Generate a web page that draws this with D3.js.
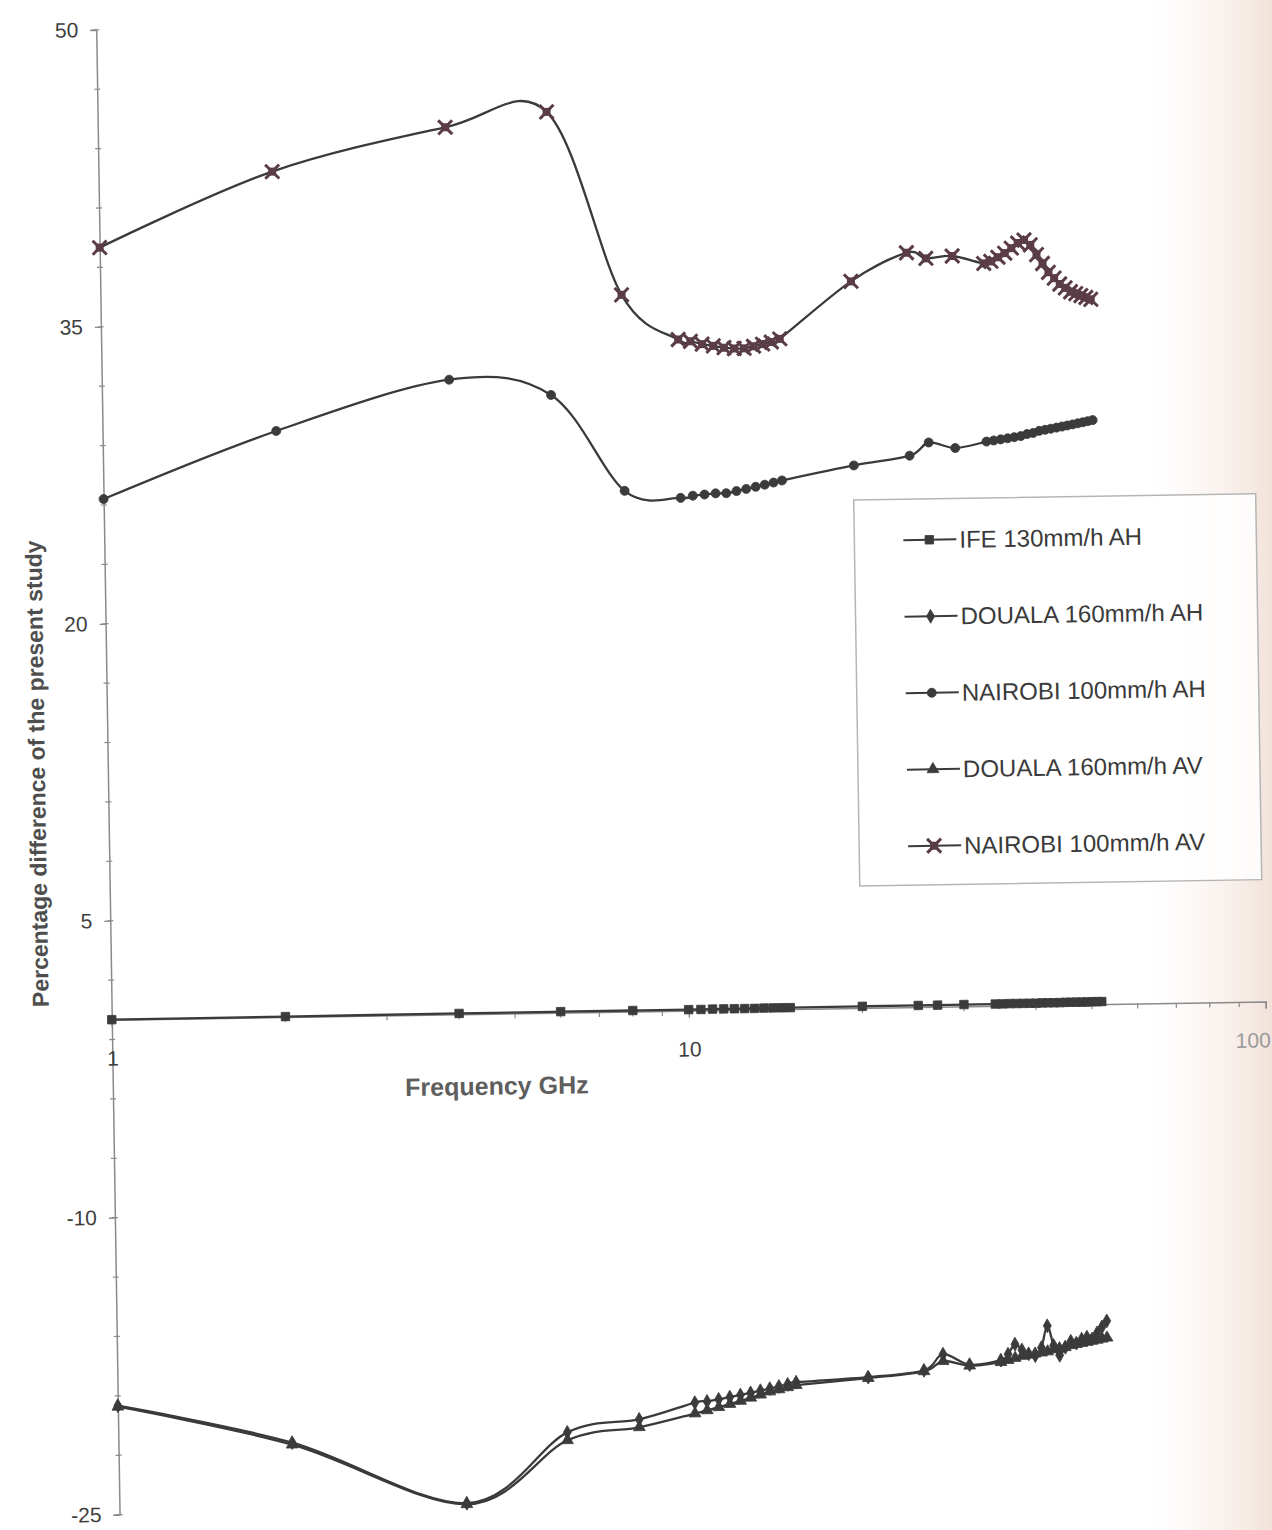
<!DOCTYPE html>
<html><head><meta charset="utf-8">
<script src="https://cdn.jsdelivr.net/npm/d3@7/dist/d3.min.js"></script>
<style>body{margin:0;background:#fff} svg{display:block}</style>
</head><body>
<svg id="c" width="1272" height="1530"></svg>
<script>
// ---- data ----
const freqs = [1,2,4,6,8,10,10.5,11,11.5,12,12.5,13,13.5,14,14.5,15,20,25,27,30,
  34,35,36,37,38,39,40,41,42,43,44,45,46,47,48,49,50,51,52];
const ife130AH = [0,0.02,0.04,0.05,0.05,0.05,0.05,0.06,0.06,0.06,0.06,0.06,0.07,0.07,0.07,0.07,0.08,0.08,0.08,0.09,
  0.09,0.09,0.1,0.1,0.1,0.1,0.1,0.11,0.11,0.11,0.11,0.12,0.12,0.12,0.12,0.12,0.13,0.13,0.13];
const nairobi100AV = [39.0,42.7,44.8,45.5,36.2,33.9,33.8,33.65,33.55,33.45,33.4,33.4,33.5,33.6,33.7,33.85,36.7,38.1,37.8,37.9,
  37.5,37.6,37.8,38.0,38.25,38.5,38.65,38.4,37.9,37.45,37.0,36.7,36.4,36.2,36.0,35.9,35.8,35.7,35.6];
const nairobi100AH = [26.3,29.6,32.05,31.2,26.3,25.9,26.0,26.05,26.1,26.1,26.2,26.3,26.4,26.5,26.6,26.7,27.4,27.85,28.5,28.2,
  28.5,28.55,28.6,28.65,28.7,28.75,28.85,28.9,29.0,29.05,29.1,29.15,29.2,29.25,29.3,29.35,29.4,29.45,29.5];
const douala160AH = [-19.5,-21.5,-24.7,-21.2,-20.6,-19.8,-19.75,-19.65,-19.55,-19.45,-19.35,-19.25,-19.15,-19.05,-18.95,-18.85,-18.65,-18.35,-17.55,-18.1,
  -17.9,-17.6,-17.1,-17.4,-17.6,-17.7,-17.3,-16.2,-17.2,-17.7,-17.3,-17.0,-17.1,-16.9,-16.8,-16.9,-16.6,-16.3,-16.0];
const douala160AV = [-19.55,-21.6,-24.75,-21.6,-21.0,-20.35,-20.2,-20.05,-19.9,-19.75,-19.6,-19.45,-19.3,-19.2,-19.1,-19.0,-18.7,-18.4,-17.9,-18.15,
  -18.0,-17.9,-17.8,-17.7,-17.65,-17.6,-17.55,-17.5,-17.4,-17.35,-17.3,-17.2,-17.15,-17.1,-17.05,-17.0,-16.95,-16.9,-16.85];
const seriesNames = ["IFE 130mm/h AH","DOUALA 160mm/h AH","NAIROBI 100mm/h AH","DOUALA 160mm/h AV","NAIROBI 100mm/h AV"];
const yTickValues = [50,35,20,5,-10,-25];
const xTickValues = [1,10,100];
const xTitle = "Frequency GHz";
const yTitle = "Percentage difference of the present study";

// ---- layout ----
const svg = d3.select("#c");
const defs = svg.append("defs");
const grad = defs.append("linearGradient").attr("id","edge").attr("x1","0").attr("x2","1").attr("y1","0").attr("y2","0");
grad.append("stop").attr("offset","0").attr("stop-color","#fbf3ee").attr("stop-opacity",0);
grad.append("stop").attr("offset","1").attr("stop-color","#f2e2da").attr("stop-opacity",1);
svg.append("rect").attr("x",1150).attr("y",0).attr("width",122).attr("height",1530).attr("fill","url(#edge)");

const g = svg.append("g").attr("transform","rotate(-0.9,600,775)");

const x = d3.scaleLog().domain([1,100]).range([108,1262]);
const y = d3.scaleLinear().domain([-25,50]).range([1507,22]);

const axisCol = "#8a8a8a", textCol = "#3e3e3e";
const fmt = d => String(d);

// y axis
const ya = g.append("g").attr("transform",`translate(${x(1)},0)`)
  .call(d3.axisLeft(y).tickValues(yTickValues).tickSize(6).tickPadding(12).tickFormat(fmt));
ya.select(".domain").attr("stroke",axisCol).attr("stroke-width",1.5);
ya.selectAll(".tick line").attr("stroke",axisCol).attr("stroke-width",1.3);
ya.selectAll("text").attr("font-family","'Liberation Sans', Arial, sans-serif").attr("font-size",21).attr("fill",textCol);
g.append("g").selectAll("line").data(d3.range(-25,50.01,3)).join("line")
  .attr("x1",x(1)-3).attr("x2",x(1)+3).attr("y1",d=>y(d)).attr("y2",d=>y(d))
  .attr("stroke",axisCol).attr("stroke-width",1.2);

// x axis at y = 0
const xa = g.append("g").attr("transform",`translate(0,${y(0)})`)
  .call(d3.axisBottom(x).tickValues(xTickValues).tickSize(7).tickPadding(24).tickFormat(fmt));
xa.select(".domain").attr("stroke",axisCol).attr("stroke-width",1.5);
xa.selectAll(".tick line").attr("stroke",axisCol).attr("stroke-width",1.3);
xa.selectAll("text").attr("font-family","'Liberation Sans', Arial, sans-serif").attr("font-size",21).attr("fill",textCol);
xa.selectAll(".tick text").filter(d=>d===100).attr("text-anchor","end").attr("dx",4).attr("fill","#9a9a9a");
const minorX = [2,3,4,5,6,7,8,9,20,30,40,50,60,70,80,90];
g.append("g").selectAll("line").data(minorX).join("line")
  .attr("x1",d=>x(d)).attr("x2",d=>x(d)).attr("y1",y(0)).attr("y2",y(0)+5)
  .attr("stroke",axisCol).attr("stroke-width",1.2);

// titles
g.append("text").attr("x",492).attr("y",1093).attr("text-anchor","middle")
  .attr("font-family","'Liberation Sans', Arial, sans-serif").attr("font-weight","bold")
  .attr("font-size",25).attr("fill","#5e5e5e").text(xTitle);
g.append("text").attr("transform","translate(37,765) rotate(-90)").attr("text-anchor","middle").attr("dy","0.35em")
  .attr("font-family","'Liberation Sans', Arial, sans-serif").attr("font-weight","bold")
  .attr("font-size",23).attr("fill","#4e4e4e").text(yTitle);

// series
const lineCol = "#3a3a3a", starCol = "#5a3d48";
const series = [
  {name:seriesNames[0], vals:ife130AH, sym:d3.symbolSquare, size:72, fill:"#3b3b3b"},
  {name:seriesNames[1], vals:douala160AH, sym:d3.symbolDiamond, size:55, fill:"#3b3b3b"},
  {name:seriesNames[2], vals:nairobi100AH, sym:d3.symbolCircle, size:64, fill:"#3b3b3b"},
  {name:seriesNames[3], vals:douala160AV, sym:d3.symbolTriangle, size:60, fill:"#3b3b3b"},
  {name:seriesNames[4], vals:nairobi100AV, sym:null, size:14, fill:starCol}
];
const line = d3.line().x(d=>x(d[0])).y(d=>y(d[1])).curve(d3.curveCardinal.tension(0));

function drawMarker(sel, s, cx, cy){
  if (s.sym){
    sel.append("path").attr("d",d3.symbol().type(s.sym).size(s.size)())
      .attr("transform",`translate(${cx},${cy})`).attr("fill",s.fill).attr("stroke",s.fill).attr("stroke-width",0.8);
  } else {
    const h = s.size/2;
    const m = sel.append("g").attr("transform",`translate(${cx},${cy})`);
    m.append("rect").attr("x",-h+3).attr("y",-h+3).attr("width",2*h-6).attr("height",2*h-6).attr("fill",s.fill);
    m.append("path").attr("d",`M${-h},${-h}L${h},${h}M${-h},${h}L${h},${-h}`).attr("stroke",s.fill).attr("stroke-width",3);
  }
}

series.forEach(s=>{
  const pts = freqs.map((f,i)=>[f,s.vals[i]]);
  g.append("path").datum(pts).attr("d",line).attr("fill","none").attr("stroke",lineCol).attr("stroke-width",2.3);
  const mg = g.append("g");
  pts.forEach(p=>drawMarker(mg, s, x(p[0]), y(p[1])));
});

// legend
const lg = g.append("g");
lg.append("rect").attr("x",858).attr("y",504).attr("width",402).attr("height",386)
  .attr("fill","#fff").attr("fill-opacity",0.85).attr("stroke","#b5b5b5").attr("stroke-width",1.5);
series.forEach((s,i)=>{
  const cy = 545 + i*76.5;
  lg.append("line").attr("x1",907).attr("x2",960).attr("y1",cy).attr("y2",cy).attr("stroke",lineCol).attr("stroke-width",2);
  drawMarker(lg, s, 933, cy);
  lg.append("text").attr("x",963).attr("y",cy).attr("dy","0.35em")
    .attr("font-family","'Liberation Sans', Arial, sans-serif").attr("font-size",24).attr("fill","#3a3a3a").text(s.name);
});
</script>
</body></html>
